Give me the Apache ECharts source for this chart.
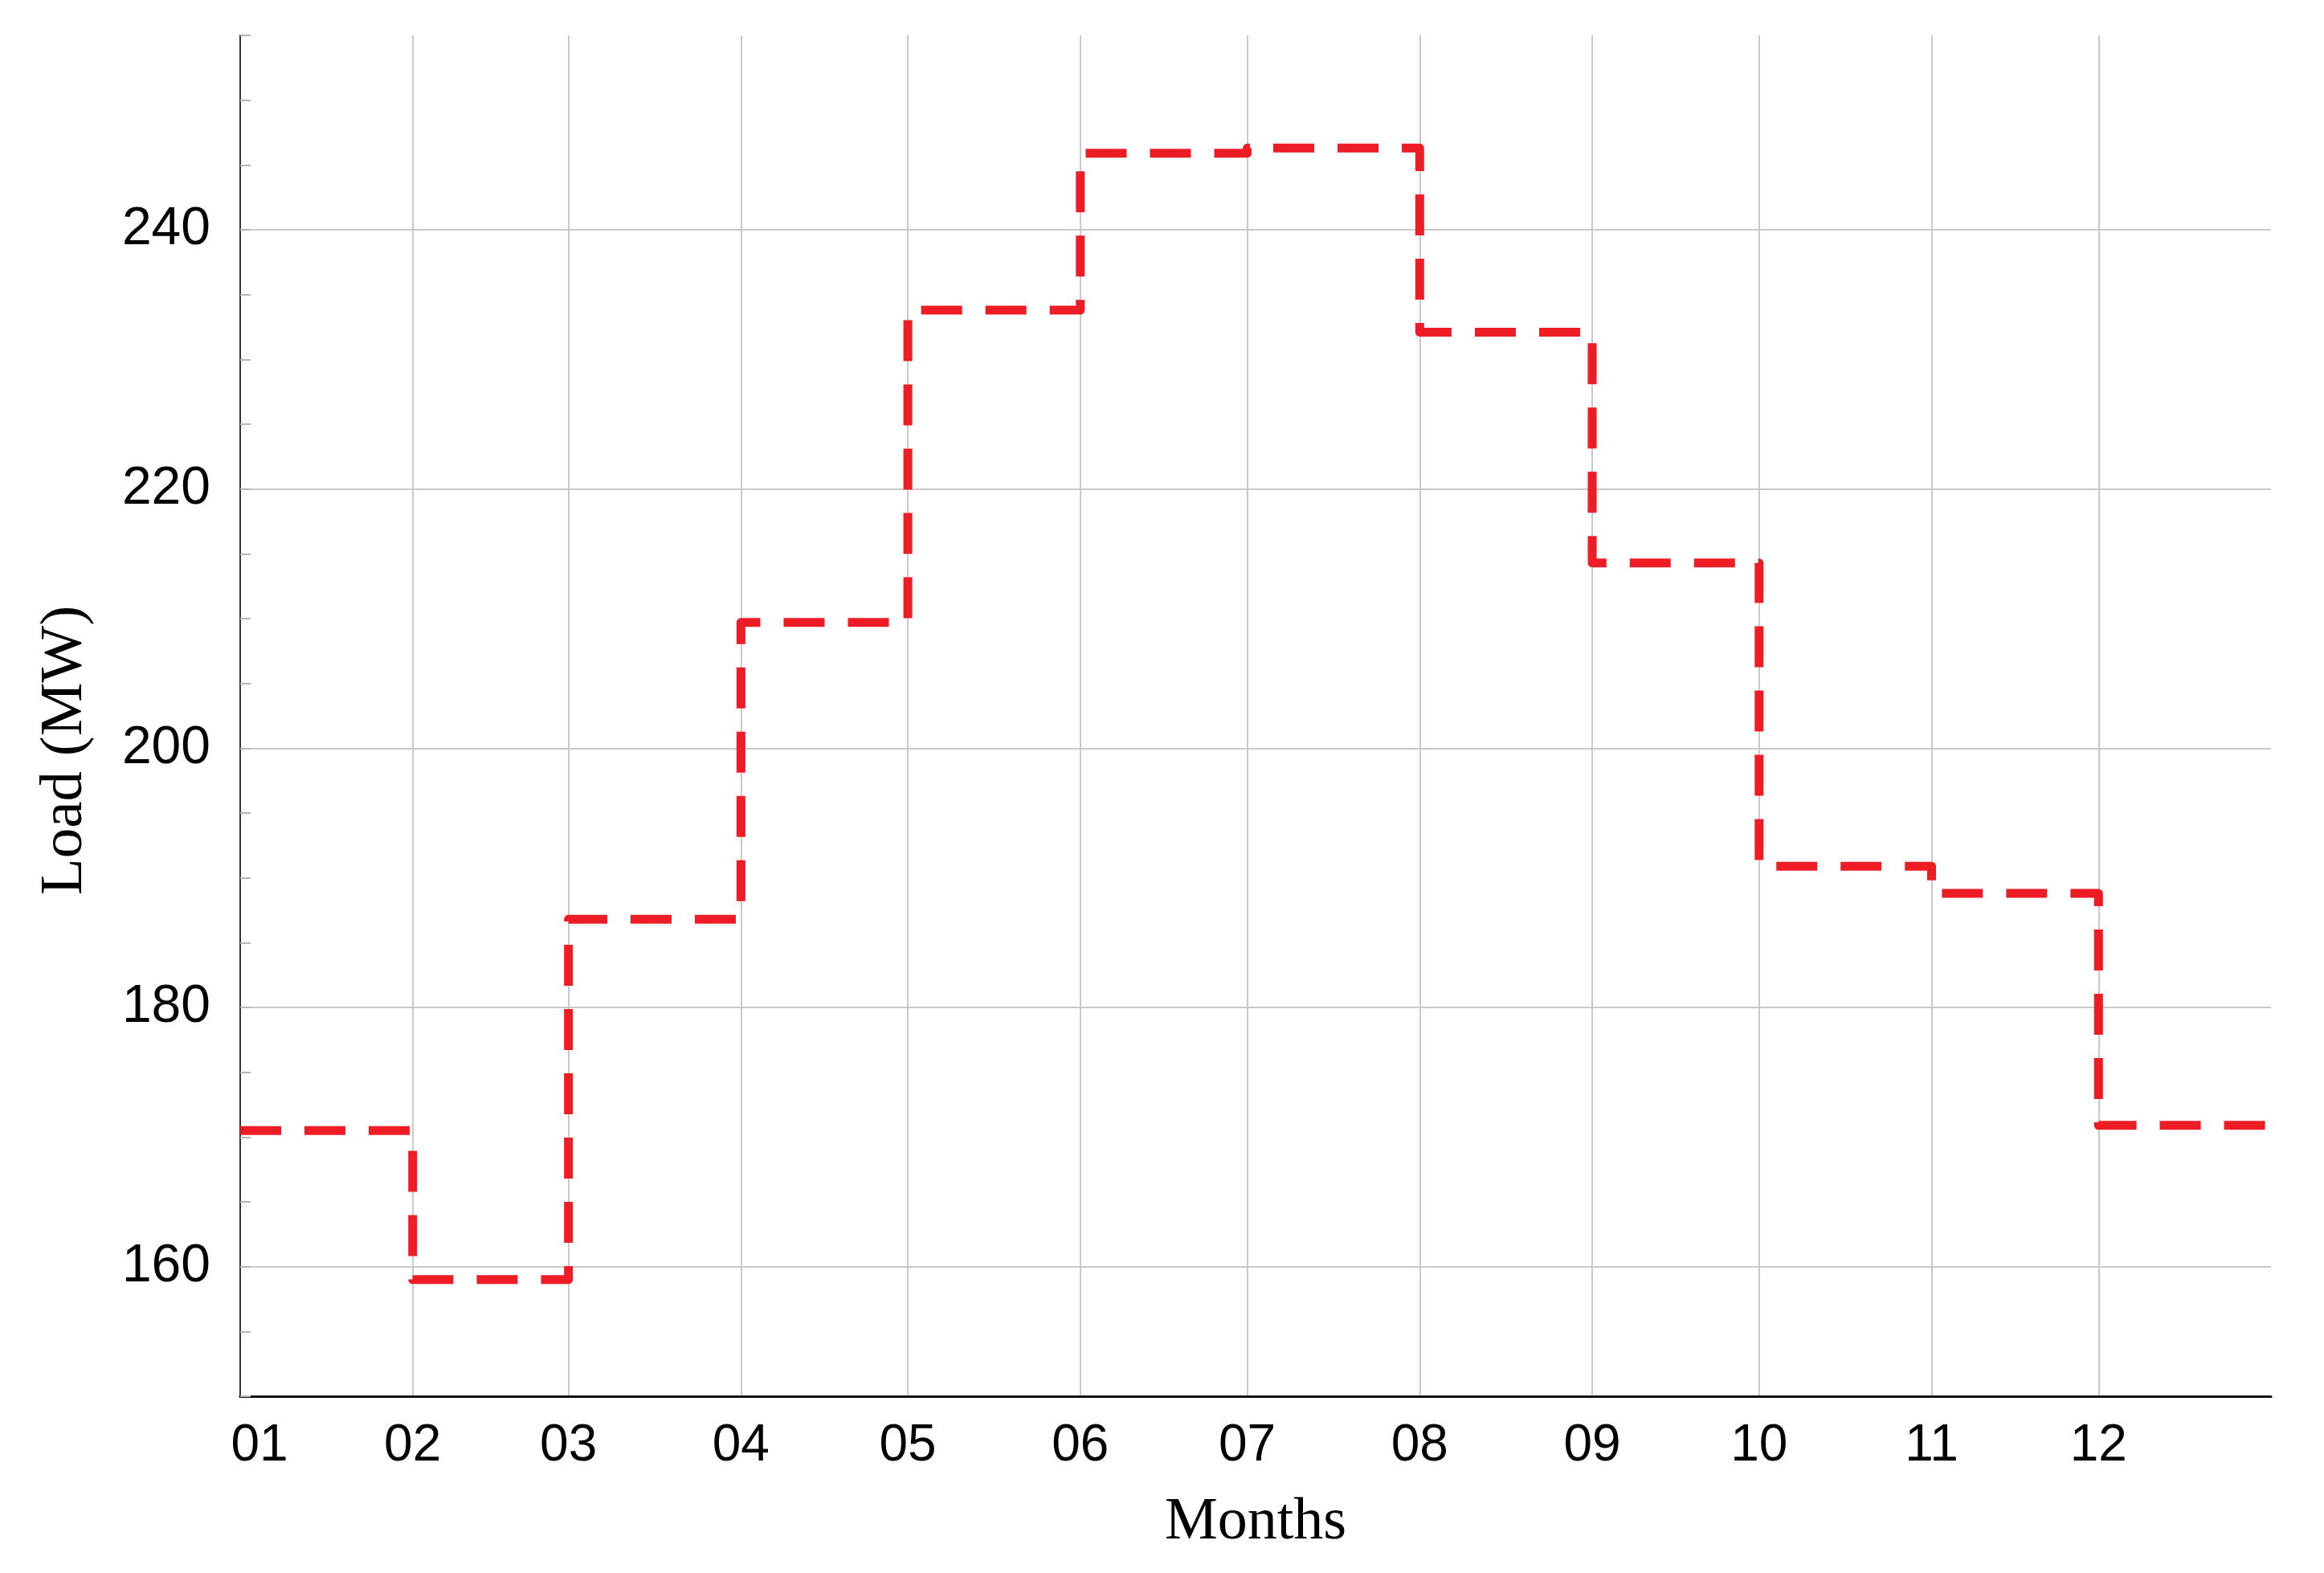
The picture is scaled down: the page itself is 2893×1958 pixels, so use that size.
<!DOCTYPE html>
<html>
<head>
<meta charset="utf-8">
<script src="https://cdn.jsdelivr.net/npm/echarts@6/dist/echarts.min.js"></script>
<style>
  html, body { margin: 0; padding: 0; background: #fff; }
  #chart { width: 2893px; height: 1958px; }
</style>
</head>
<body>
<div id="chart"></div>
<script>
// Monthly load, MW (held flat over each month); month widths follow day counts
const year = 2019;
const months = ['01', '02', '03', '04', '05', '06', '07', '08', '09', '10', '11', '12'];
const load = [170.5, 159.0, 186.8, 209.7, 233.8, 245.9, 246.3, 232.1, 214.3, 190.9, 188.8, 170.9];
const yMin = 150;
const yMax = 255;
const yLabelStep = 20;

const GRID = '#c9c9c9';
const HIDDEN = 'rgba(0,0,0,0)';
const DAY = 86400000;
const LABEL_FONT = '"Liberation Sans", Arial, sans-serif';

const start = `${year}-01-01`;
const end = `${year + 1}-01-01`;

// last point closes the December step at the right edge
const stepData = months.map((m, i) => [`${year}-${m}-01`, load[i]]);
stepData.push([end, load[load.length - 1]]);

const chart = echarts.init(document.getElementById('chart'));

chart.setOption({
  animation: false,
  backgroundColor: '#fff',
  grid: { left: 299, right: 66, top: 44, bottom: 220 },
  xAxis: {
    type: 'time',
    min: start,
    max: end,
    splitNumber: 12,
    minInterval: 28 * DAY,
    maxInterval: 31 * DAY,
    name: 'Months',
    nameLocation: 'middle',
    nameGap: 121,
    nameTextStyle: { fontFamily: '"Liberation Serif", "Times New Roman", serif', fontSize: 74, color: '#000' },
    axisLine: { lineStyle: { color: '#111', width: 3 } },
    axisTick: { show: false },
    axisLabel: {
      margin: 30,
      fontFamily: LABEL_FONT,
      fontSize: 64,
      fontWeight: 'normal',
      color: '#000',
      showMaxLabel: false,
      // first label sits just right of the y axis
      rich: { first: { fontFamily: LABEL_FONT, fontSize: 64, color: '#000', padding: [0, 0, 0, 48] } },
      formatter: v => {
        const d = new Date(v);
        if (d.getFullYear() !== year) return '';
        const m = d.getMonth();
        return m === 0 ? `{first|${months[m]}}` : months[m];
      }
    },
    splitLine: { show: true, showMaxLine: false, lineStyle: { color: GRID, width: 2 } }
  },
  yAxis: {
    type: 'value',
    min: yMin,
    max: yMax,
    interval: 5,
    name: 'Load (MW)',
    nameLocation: 'middle',
    nameGap: 180,
    nameRotate: 90,
    nameTextStyle: {
      fontFamily: '"Liberation Serif", "Times New Roman", serif',
      fontSize: 75,
      color: '#000',
      padding: [0, 86, 0, 0]
    },
    axisLine: { show: true, lineStyle: { color: '#333', width: 2 } },
    axisTick: { show: true, inside: true, length: 13, lineStyle: { color: '#b5b5b5', width: 2 } },
    axisLabel: {
      margin: 37,
      fontFamily: LABEL_FONT,
      fontSize: 66,
      color: '#000',
      formatter: v => (v % yLabelStep === 0 ? String(v) : '')
    },
    // only every 4th line (160, 180, ...) is drawn
    splitLine: { show: true, lineStyle: { color: [HIDDEN, HIDDEN, GRID, HIDDEN], width: 2 } }
  },
  series: [{
    type: 'line',
    step: 'end',
    data: stepData,
    symbol: 'none',
    lineStyle: { color: '#ee1c25', width: 11, type: [51, 29], cap: 'butt', join: 'round' }
  }]
});
</script>
</body>
</html>
